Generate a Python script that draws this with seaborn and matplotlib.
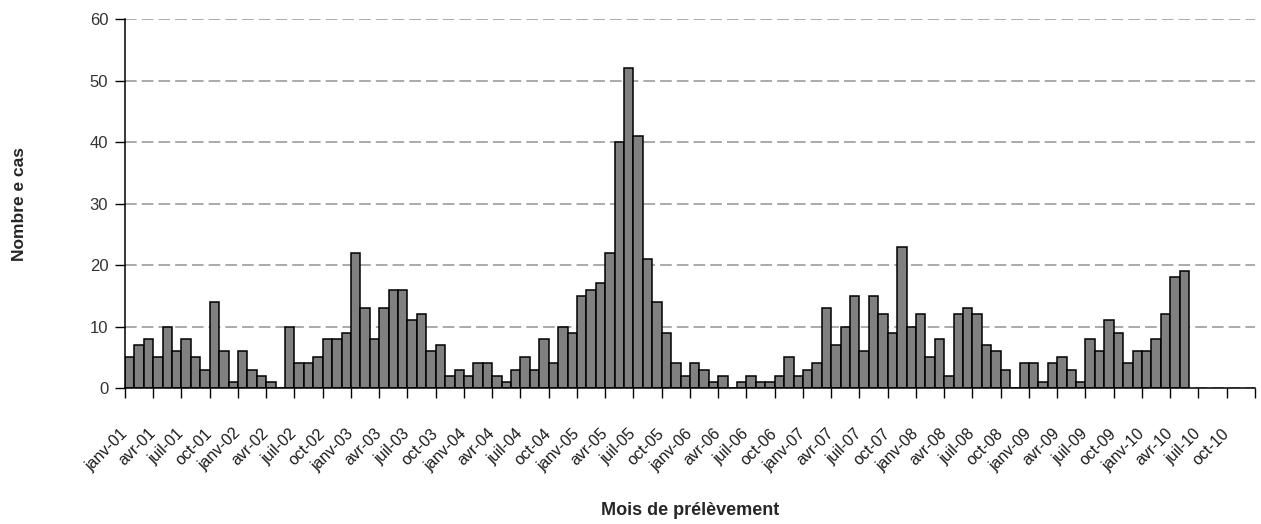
"""Histogramme mensuel des cas (2001-2010) avec seaborn."""

import matplotlib
matplotlib.use("Agg")
import matplotlib.pyplot as plt
from matplotlib.transforms import ScaledTranslation
import numpy as np
import pandas as pd
import seaborn as sns

# Données
mois = ["janv", "févr", "mars", "avr", "mai", "juin",
        "juil", "août", "sept", "oct", "nov", "déc"]
annees = ["01", "02", "03", "04", "05", "06", "07", "08", "09", "10"]

cas_2001 = [5, 7, 8, 5, 10, 6, 8, 5, 3, 14, 6, 1]
cas_2002 = [6, 3, 2, 1, 0, 10, 4, 4, 5, 8, 8, 9]
cas_2003 = [22, 13, 8, 13, 16, 16, 11, 12, 6, 7, 2, 3]
cas_2004 = [2, 4, 4, 2, 1, 3, 5, 3, 8, 4, 10, 9]
cas_2005 = [15, 16, 17, 22, 40, 52, 41, 21, 14, 9, 4, 2]
cas_2006 = [4, 3, 1, 2, 0, 1, 2, 1, 1, 2, 5, 2]
cas_2007 = [3, 4, 13, 7, 10, 15, 6, 15, 12, 9, 23, 10]
cas_2008 = [12, 5, 8, 2, 12, 13, 12, 7, 6, 3, 0, 4]
cas_2009 = [4, 1, 4, 5, 3, 1, 8, 6, 11, 9, 4, 6]
cas_2010 = [6, 8, 12, 18, 19]  # pas de données après mai-10

labels = [f"{m}-{a}" for a in annees for m in mois]
valeurs = (cas_2001 + cas_2002 + cas_2003 + cas_2004 + cas_2005
           + cas_2006 + cas_2007 + cas_2008 + cas_2009 + cas_2010)
valeurs = valeurs + [np.nan] * (len(labels) - len(valeurs))
df = pd.DataFrame({"mois": labels, "cas": valeurs})

sns.set_theme(style="ticks")
plt.rcParams["font.family"] = ["Liberation Sans", "DejaVu Sans"]

fig, ax = plt.subplots(figsize=(12.61, 5.24), dpi=100)
fig.subplots_adjust(left=0.0991, right=0.9952, bottom=0.2595, top=0.9637)

sns.barplot(
    data=df.dropna(), x="mois", y="cas", order=labels, ax=ax,
    color="#808080", saturation=1, edgecolor="black", linewidth=1.1,
    width=1.0, errorbar=None, zorder=3,
)

ax.set_xlim(-0.5, len(labels) - 0.5)
ax.set_ylim(0, 60)
ax.set_yticks(range(0, 61, 10))
ax.yaxis.grid(True, color="#aaaaaa", linewidth=1.4, linestyle=(0, (6, 2.6)))
ax.xaxis.grid(False)
ax.set_axisbelow(True)

ticks = np.arange(0, len(labels) + 1, 3) - 0.5
ax.set_xticks(ticks)
ax.set_xticklabels(labels[::3] + [""], rotation=45, ha="right", va="center",
                   rotation_mode="anchor", fontsize=11.5, color="#1a1a1a")
off = ScaledTranslation(-0.06, 0, fig.dpi_scale_trans)
for lab in ax.get_xticklabels():
    lab.set_transform(lab.get_transform() + off)

ax.tick_params(axis="x", length=7, width=1, color="black", pad=24)
ax.tick_params(axis="y", length=7, width=1, color="black", pad=5,
               labelsize=12, labelcolor="#333333")

for side in ["top", "right"]:
    ax.spines[side].set_visible(False)
for side in ["left", "bottom"]:
    ax.spines[side].set_color("black")
    ax.spines[side].set_linewidth(1.1)
    ax.spines[side].set_zorder(4)

ax.set_xlabel("Mois de prélèvement", fontsize=13, fontweight="bold")
ax.set_ylabel("Nombre e cas", fontsize=12.5, fontweight="bold")
ax.xaxis.set_label_coords(0.5, -0.309)
ax.yaxis.set_label_coords(-0.087, 0.5)

fig.savefig("out.png", dpi=100)
plt.close(fig)
